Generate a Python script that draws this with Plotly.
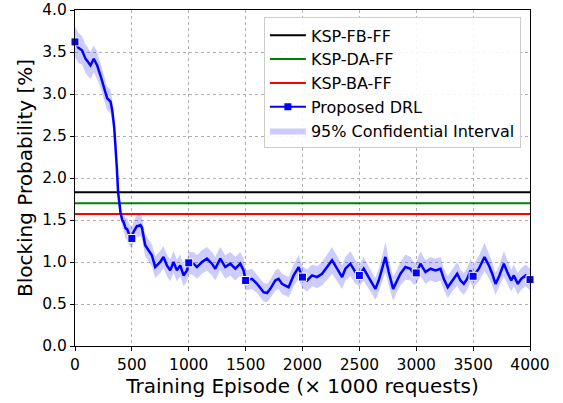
import plotly.graph_objects as go

# ---- data ----
episodes = [0, 30, 62, 92, 115, 136, 165, 195, 224, 253, 282, 312, 327, 345, 356, 368, 379, 390, 400,
            415, 429, 445, 459, 475, 488, 500, 515, 529, 545, 558, 575, 588, 603, 617, 646, 676, 705,
            749, 778, 808, 837, 866, 896, 925, 954, 984, 1000, 1042, 1072, 1116, 1160, 1204, 1233,
            1277, 1321, 1365, 1409, 1453, 1482, 1500, 1556, 1600, 1658, 1688, 1717, 1761, 1790, 1820,
            1849, 1878, 1922, 1966, 1981, 2000, 2040, 2084, 2128, 2172, 2216, 2260, 2304, 2348, 2377,
            2421, 2465, 2500, 2538, 2553, 2597, 2641, 2670, 2700, 2729, 2758, 2797, 2832, 2861, 2905,
            2949, 2978, 3000, 3037, 3081, 3125, 3169, 3213, 3242, 3277, 3316, 3360, 3389, 3418, 3448,
            3477, 3500, 3550, 3600, 3638, 3668, 3697, 3726, 3770, 3800, 3835, 3858, 3893, 3923, 3961,
            4000]
drl_bp = [3.62, 3.55, 3.52, 3.42, 3.38, 3.34, 3.42, 3.34, 3.22, 3.08, 2.95, 2.91, 2.81, 2.60, 2.42,
          2.12, 1.83, 1.70, 1.59, 1.50, 1.47, 1.40, 1.39, 1.33, 1.31, 1.28, 1.36, 1.39, 1.43, 1.43,
          1.44, 1.41, 1.30, 1.20, 1.14, 1.08, 0.94, 1.00, 1.06, 0.96, 0.90, 1.00, 0.90, 0.96, 0.84,
          0.90, 0.99, 0.98, 0.94, 1.00, 1.04, 0.98, 0.92, 1.04, 0.94, 0.98, 0.92, 0.98, 0.90, 0.78,
          0.80, 0.74, 0.64, 0.63, 0.68, 0.78, 0.80, 0.74, 0.72, 0.70, 0.84, 0.94, 0.88, 0.82, 0.78,
          0.84, 0.82, 0.86, 0.94, 1.02, 0.92, 0.82, 0.92, 0.98, 0.88, 0.84, 0.92, 0.88, 0.78, 0.68,
          0.78, 0.92, 1.06, 0.88, 0.68, 0.78, 0.86, 0.94, 0.92, 0.86, 0.87, 0.98, 0.88, 0.92, 0.90,
          0.92, 0.80, 0.70, 0.78, 0.86, 0.78, 0.74, 0.80, 0.90, 0.83, 0.92, 1.06, 0.96, 0.86, 0.74,
          0.82, 0.98, 0.88, 0.78, 0.84, 0.74, 0.80, 0.84, 0.79]
ci_half = [0.18, 0.18, 0.17, 0.17, 0.17, 0.16, 0.16, 0.16, 0.15, 0.15, 0.14, 0.14, 0.12, 0.08, 0.05,
           0.04, 0.04, 0.05, 0.06, 0.08, 0.10, 0.12, 0.13, 0.13, 0.13, 0.13, 0.13, 0.13, 0.13, 0.13,
           0.13, 0.13, 0.13, 0.13, 0.13, 0.13, 0.13, 0.13, 0.13, 0.13, 0.13, 0.13, 0.13, 0.13, 0.13,
           0.13, 0.13, 0.14, 0.14, 0.14, 0.14, 0.14, 0.14, 0.14, 0.14, 0.14, 0.14, 0.14, 0.14, 0.12,
           0.12, 0.11, 0.11, 0.11, 0.11, 0.12, 0.12, 0.12, 0.12, 0.12, 0.13, 0.14, 0.14, 0.13, 0.13,
           0.13, 0.13, 0.14, 0.15, 0.16, 0.15, 0.14, 0.14, 0.15, 0.14, 0.13, 0.14, 0.14, 0.13, 0.13,
           0.14, 0.15, 0.18, 0.16, 0.14, 0.13, 0.14, 0.15, 0.14, 0.13, 0.13, 0.15, 0.14, 0.14, 0.14,
           0.14, 0.13, 0.13, 0.13, 0.14, 0.13, 0.13, 0.13, 0.14, 0.13, 0.15, 0.17, 0.15, 0.14, 0.13,
           0.13, 0.15, 0.14, 0.13, 0.13, 0.13, 0.13, 0.13, 0.13]
marker_episodes = [0, 500, 1000, 1500, 2000, 2500, 3000, 3500, 4000]

baseline_names = ["KSP-FB-FF", "KSP-DA-FF", "KSP-BA-FF"]
baseline_values = [1.83, 1.70, 1.57]
baseline_colors = ["#000000", "#008000", "#ff0000"]

x_ticks = [0, 500, 1000, 1500, 2000, 2500, 3000, 3500, 4000]
y_ticks = [0.0, 0.5, 1.0, 1.5, 2.0, 2.5, 3.0, 3.5, 4.0]

lookup = dict(zip(episodes, drl_bp))
marker_values = [lookup[e] for e in marker_episodes]
ci_low = [v - h for v, h in zip(drl_bp, ci_half)]
ci_high = [v + h for v, h in zip(drl_bp, ci_half)]

BLUE = "#0000ff"
FONT = "DejaVu Sans"

fig = go.Figure()

for i, (name, val, col) in enumerate(zip(baseline_names, baseline_values, baseline_colors)):
    fig.add_trace(go.Scatter(x=[x_ticks[0], x_ticks[-1]], y=[val, val], mode="lines",
                             line=dict(color=col, width=2), name=name, legendrank=i + 1))

# confidence band
fig.add_trace(go.Scatter(x=episodes, y=ci_low, mode="lines", line=dict(width=0, color=BLUE),
                         showlegend=False, hoverinfo="skip"))
fig.add_trace(go.Scatter(x=episodes, y=ci_high, mode="lines", line=dict(width=0, color=BLUE),
                         fill="tonexty", fillcolor="rgba(0,0,255,0.2)",
                         name="95% Confidential Interval", legendrank=5))

# DRL line
fig.add_trace(go.Scatter(x=episodes, y=drl_bp, mode="lines", line=dict(color=BLUE, width=2.5),
                         showlegend=False))
fig.add_trace(go.Scatter(x=marker_episodes, y=marker_values, mode="markers",
                         marker=dict(symbol="square", size=8, color=BLUE,
                                     line=dict(color="white", width=1)),
                         showlegend=False, cliponaxis=False))
# legend entry for DRL (line + marker)
fig.add_trace(go.Scatter(x=[None], y=[None], mode="lines+markers", name="Proposed DRL",
                         line=dict(color=BLUE, width=2),
                         marker=dict(symbol="square", size=7, color=BLUE),
                         legendrank=4))

axis_common = dict(showline=True, linecolor="black", linewidth=1, mirror=True,
                   ticks="outside", tickcolor="black", ticklen=4, tickwidth=1,
                   showgrid=True, gridcolor="#b0b0b0", griddash="dot", gridwidth=1,
                   zeroline=False, automargin=False, ticklabeloverflow="allow",
                   tickfont=dict(family=FONT, size=15.5, color="black"))

fig.update_layout(
    width=563, height=403,
    margin=dict(l=75, r=33, t=10, b=57),
    paper_bgcolor="white", plot_bgcolor="white",
    font=dict(family=FONT, color="black"),
    showlegend=True,
    legend=dict(x=0.98, y=0.978, xanchor="right", yanchor="top", traceorder="normal",
                bgcolor="rgba(255,255,255,0.9)", bordercolor="#cccccc", borderwidth=1,
                font=dict(family=FONT, size=16, color="black"),
                itemwidth=36),
    xaxis=dict(range=[0, 4000], tickvals=x_ticks, ticktext=[str(t) for t in x_ticks],
               title=dict(text="Training Episode (× 1000 requests)",
                          font=dict(family=FONT, size=20), standoff=6),
               **axis_common),
    yaxis=dict(range=[0, 4.0], tickvals=y_ticks, ticktext=[f"{t:.1f}" for t in y_ticks],
               title=dict(text="Blocking Probability [%]",
                          font=dict(family=FONT, size=20), standoff=4),
               **axis_common),
)

fig.write_html("out.html", config={"displayModeBar": False},
               post_script="document.body.style.margin='0px';document.body.style.overflow='hidden';")
